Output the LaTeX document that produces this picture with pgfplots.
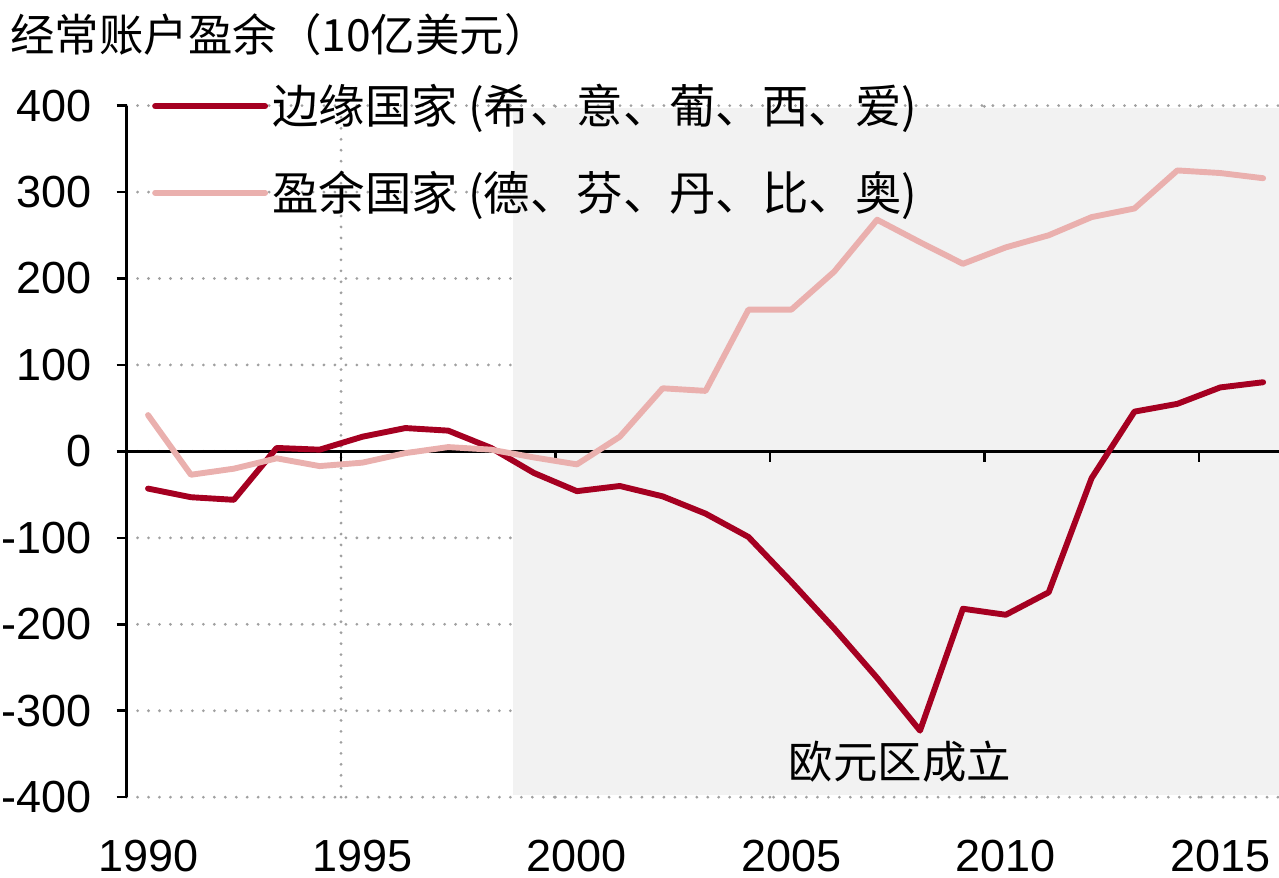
\documentclass[border=0pt]{standalone}
\usepackage{fontspec}
\setmainfont{Liberation Sans}
\newfontfamily\cjk{Noto Sans CJK SC}
\usepackage{pgfplots}
\pgfplotsset{compat=1.18}

\definecolor{periph}{HTML}{A50021}
\definecolor{surplus}{HTML}{EAB0AE}
\definecolor{shadebg}{HTML}{F2F2F2}
\definecolor{gridgray}{HTML}{A0A0A0}

% current account balance, bn USD
\pgfplotstableread{
year periph surplus
1990 -43  42
1991 -53 -27
1992 -56 -20
1993   4  -8
1994   2 -17
1995  17 -13
1996  27  -2
1997  24   5
1998   4   2
1999 -25  -7
2000 -46 -15
2001 -40  17
2002 -52  73
2003 -72  70
2004 -99 164
2005 -151 164
2006 -205 208
2007 -262 268
2008 -323 242
2009 -182 217
2010 -189 236
2011 -163 250
2012 -31  271
2013  46  281
2014  55  325
2015  74  322
2016  80  316
}\cadata

\begin{document}
\begin{tikzpicture}
\begin{axis}[
  name=ax,
  scale only axis,
  width=14.405cm, height=8.645cm,
  xmin=1989.5, xmax=2016.37,
  ymin=-400, ymax=400,
  axis x line=bottom, axis y line=left,
  axis line style={-, line width=0.9pt},
  x axis line style={draw=none},
  xtick={1990,1995,2000,2005,2010,2015},
  xticklabels={1990,1995,2000,2005,2010,2015},
  x tick style={draw=none},
  extra x ticks={1994.5,1999.5,2004.5,2009.5,2014.5},
  extra x tick labels={},
  extra x tick style={grid=major},
  ytick={-400,-300,...,400},
  yticklabels={-400,-300,-200,-100,0,100,200,300,400},
  ymajorgrids,
  tick align=outside,
  major tick length=0.125cm,
  y tick style={black, line width=0.9pt},
  major grid style={gridgray, line width=1.1pt, line cap=round, dash pattern=on 0pt off 3.9pt},
  ticklabel style={font=\fontsize{16}{19}\selectfont},
  yticklabel style={xshift=-0.19cm},
  xticklabel style={yshift=-0.29cm},
  legend cell align=left,
  legend style={at={(rel axis cs:0.0217,1.0315)}, anchor=north west,
    draw=none, fill=none, inner sep=0pt, row sep=15.3pt,
    column sep=1.5pt,
    nodes={inner sep=0pt},
    font=\cjk\fontsize{16.5}{19}\selectfont},
  legend image code/.code={\draw[#1, line cap=round] (0cm,0cm) -- (1.375cm,0cm);},
]
\fill[shadebg] (axis cs:1998.5,-397) rectangle (axis cs:2016.37,397);
\draw[black, line width=0.9pt] (axis cs:1989.5,0) -- (axis cs:2016.37,0);
\draw[black, line width=0.9pt] (axis cs:1994.5,0) -- (axis cs:1994.5,-12);
\draw[black, line width=0.9pt] (axis cs:1999.5,0) -- (axis cs:1999.5,-12);
\draw[black, line width=0.9pt] (axis cs:2004.5,0) -- (axis cs:2004.5,-12);
\draw[black, line width=0.9pt] (axis cs:2009.5,0) -- (axis cs:2009.5,-12);
\draw[black, line width=0.9pt] (axis cs:2014.5,0) -- (axis cs:2014.5,-12);

\addplot[periph, line width=2.1pt, line cap=round, line join=round] table[x=year, y=periph] {\cadata};
\addlegendentry{边缘国家 (希、意、葡、西、爱)}
\addplot[surplus, line width=2.1pt, line cap=round, line join=round] table[x=year, y=surplus] {\cadata};
\addlegendentry{盈余国家 (德、芬、丹、比、奥)}

\node[font=\cjk\fontsize{15.8}{18}\selectfont] at (axis cs:2007.53,-359) {欧元区成立};
\end{axis}
\node[anchor=west, inner sep=0pt, font=\cjk\fontsize{15.8}{18}\selectfont]
  at ([xshift=-1.4575cm, yshift=0.884cm]ax.north west) {经常账户盈余（10亿美元）};
\pgfresetboundingbox
\path[use as bounding box] ([xshift=-1.5825cm, yshift=-1.0cm]ax.south west) rectangle ([yshift=1.32cm]ax.north east);
\end{tikzpicture}
\end{document}
